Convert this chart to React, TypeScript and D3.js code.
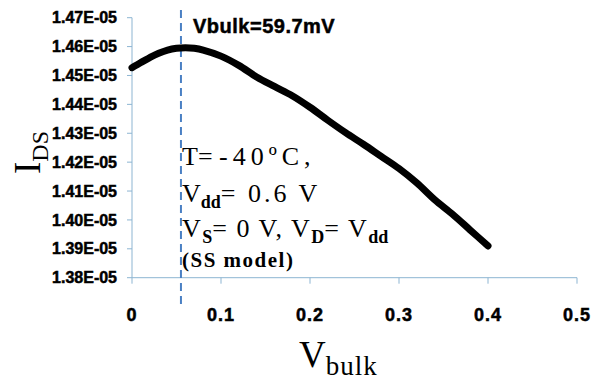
import React from "react"
import * as d3 from "d3"

// V_bulk (V) and I_DS (x1e-5 A)
const vbulk = [0, 0.01, 0.02, 0.03, 0.04, 0.05, 0.06, 0.07, 0.08, 0.1, 0.12, 0.14, 0.16, 0.18, 0.2,
    0.22, 0.24, 0.26, 0.28, 0.3, 0.32, 0.34, 0.36, 0.38, 0.4]
const ids = [1.4527, 1.4545, 1.4562, 1.4577, 1.4588, 1.4594, 1.4596, 1.4594, 1.4588, 1.4567, 1.4535,
    1.4495, 1.4462, 1.443, 1.439, 1.4345, 1.4302, 1.4262, 1.422, 1.4178, 1.4128, 1.407, 1.402, 1.3965, 1.391]

const xTicks = [0, 0.1, 0.2, 0.3, 0.4, 0.5]
const xTickLabels = ["0", "0.1", "0.2", "0.3", "0.4", "0.5"]
const yTicks = [1.38, 1.39, 1.4, 1.41, 1.42, 1.43, 1.44, 1.45, 1.46, 1.47]
const yTickLabels = ["1.38E-05", "1.39E-05", "1.40E-05", "1.41E-05", "1.42E-05", "1.43E-05",
    "1.44E-05", "1.45E-05", "1.46E-05", "1.47E-05"]
const markerV = 0.055
const markerLabel = "Vbulk=59.7mV"

const SANS = "'Liberation Sans', Arial, sans-serif"
const SERIF = "'Liberation Serif', 'Times New Roman', serif"
const AXIS = "#8db5d2"

export default function App() {
    const w = 600
    const h = 381
    const left = 132
    const right = 577
    const top = 17.7
    const bottom = 277.7

    const x = d3.scaleLinear().domain([0, 0.5]).range([left, right])
    const y = d3.scaleLinear().domain([1.38, 1.47]).range([bottom, top])

    const pts = vbulk.map((v, i) => [v, ids[i]] as [number, number])
    const line = d3.line<[number, number]>()
        .x(d => x(d[0]))
        .y(d => y(d[1]))
        .curve(d3.curveCatmullRom)

    const sub = { fontWeight: "bold" as const, fontSize: 18, letterSpacing: 0 }

    return (
        <svg width={w} height={h} viewBox={`0 0 ${w} ${h}`}
            style={{ position: "absolute", left: 0, top: 0, background: "#fff" }}>
            {/* axes */}
            <line x1={left} x2={left} y1={top} y2={bottom} stroke={AXIS} strokeWidth={1} />
            <line x1={left} x2={right} y1={bottom} y2={bottom} stroke={AXIS} strokeWidth={1} />
            {yTicks.map((t, i) => (
                <g key={"y" + i}>
                    <line x1={left - 5} x2={left} y1={y(t)} y2={y(t)} stroke={AXIS} />
                    <text x={117} y={y(t)} dy="0.35em" textAnchor="end" fontFamily={SANS}
                        fontWeight="bold" fontSize={16} stroke="#000" strokeWidth={0.5}>{yTickLabels[i]}</text>
                </g>
            ))}
            {xTicks.map((t, i) => (
                <g key={"x" + i}>
                    <line x1={x(t)} x2={x(t)} y1={bottom} y2={bottom + 6} stroke={AXIS} />
                    <text x={x(t)} y={321} textAnchor="middle" fontFamily={SANS}
                        fontWeight="bold" fontSize={18} stroke="#000" strokeWidth={0.5}
                        letterSpacing={1}>{xTickLabels[i]}</text>
                </g>
            ))}

            {/* marker line */}
            <line x1={x(markerV)} x2={x(markerV)} y1={10} y2={308} stroke="#4a80c4"
                strokeWidth={2} strokeDasharray="8,5" />
            <text x={193} y={33} fontFamily={SANS} fontWeight="bold" fontSize={20}
                stroke="#000" strokeWidth={0.5} letterSpacing={0.5}>{markerLabel}</text>

            {/* curve */}
            <path d={line(pts) || ""} fill="none" stroke="#000" strokeWidth={7}
                strokeLinecap="round" strokeLinejoin="round" />

            {/* conditions */}
            <g fontFamily={SERIF} fontSize={26}>
                <text x={182} y={165}>T= <tspan letterSpacing={5}>-40ºC</tspan>,</text>
                <text x={182} y={202}>
                    V<tspan {...sub} dy={6}>dd</tspan><tspan dy={-6} letterSpacing={3}>= 0.6 V</tspan>
                </text>
                <text x={182} y={237} letterSpacing={1.5}>
                    V<tspan {...sub} dy={6}>S</tspan><tspan dy={-6}>= 0 V, V</tspan>
                    <tspan {...sub} dy={6}>D</tspan><tspan dy={-6}>=  V</tspan>
                    <tspan {...sub} dy={6}>dd</tspan>
                </text>
                <text x={182} y={267} fontSize={21} fontWeight="bold" letterSpacing={1.5}>(SS model)</text>
            </g>

            {/* axis titles */}
            <text x={299} y={367} fontFamily={SERIF} fontSize={37}>
                V<tspan fontSize={27} dy={8} letterSpacing={1}>bulk</tspan>
            </text>
            <text transform="translate(40,174) rotate(-90)" fontFamily={SERIF} fontSize={37}>
                I<tspan fontSize={24} dy={8}>DS</tspan>
            </text>
        </svg>
    )
}
